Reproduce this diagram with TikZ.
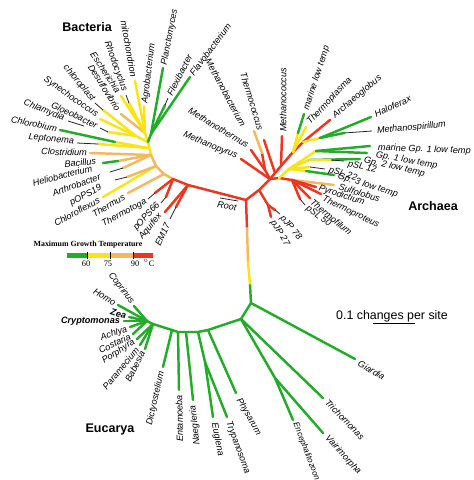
\documentclass[tikz,border=0pt]{standalone}
\usepackage{fontspec}
\setmainfont{Liberation Sans}
\newfontfamily\serifx{Liberation Serif}
\definecolor{tgreen}{RGB}{34,172,40}
\definecolor{tyellow}{RGB}{250,228,20}
\definecolor{torange}{RGB}{244,184,96}
\definecolor{tred}{RGB}{240,52,30}
\begin{document}
\begin{tikzpicture}[x=0.75pt,y=-0.75pt,
  br/.style={line width=1.85pt, line cap=round, line join=round},
  grn/.style={br, draw=tgreen},
  ylw/.style={br, draw=tyellow},
  org/.style={br, draw=torange},
  rd/.style={br, draw=tred},
  blk/.style={draw=black!85, line width=0.6pt},
  lab/.style={font=\fontsize{6.85}{7}\selectfont\itshape, inner sep=0.6pt},
  labs/.style={lab, font=\fontsize{6.2}{7}\selectfont\itshape},
  labb/.style={lab, font=\fontsize{6.85}{7}\selectfont\bfseries\itshape},
  ttl/.style={font=\fontsize{9.4}{10}\selectfont\bfseries, inner sep=0pt},
  lgd/.style={font=\serifx\fontsize{6.3}{7}\selectfont, inner sep=0pt}]
\path[use as bounding box] (0,0) rectangle (474,480);

% ---------- main skeleton ----------
\coordinate (R) at (246,200);
\coordinate (V1) at (247,228);
\coordinate (V2) at (248,262);
\coordinate (V3) at (250,285);
\coordinate (E0) at (251,303);
\draw[rd] (R) -- (V1);
\draw[org] (V1) -- (V2);
\draw[ylw] (V2) -- (V3);
\draw[grn] (V3) -- (E0);

% ---------- Bacteria ----------
\coordinate (B1) at (188,185);
\coordinate (B2) at (173,179);
\coordinate (B3) at (164,174);
\coordinate (B4) at (156,166);
\coordinate (B5) at (151,155);
\coordinate (BC) at (148,142);
\coordinate (BP) at (145,133);
\coordinate (BY) at (136,136);
\coordinate (BG) at (151,134);
\draw[rd] (R) -- (B1) -- (B2);
\draw[org] (B2) -- (B3) -- (B4) -- (B5);
\draw[ylw] (B5) -- (BC);

\coordinate (tAq) at (165,212);
\coordinate (jEM) at (176,207);
\coordinate (tEM) at (170,219);
\coordinate (tTt) at (155,193);
\coordinate (uTt) at (148,199);
\coordinate (jP66) at (166,197);
\coordinate (tP66) at (161,203);
\coordinate (tTh) at (128,193);
\coordinate (tCf) at (103,197);
\coordinate (jAr) at (127,177);
\coordinate (tAr) at (115,180);
\coordinate (jHe) at (123,168);
\coordinate (tHe) at (110,172);
\coordinate (jBa) at (118,161);
\coordinate (tBa) at (103,163);
\coordinate (tCl) at (90,153);
\coordinate (hL) at (148,148);
\coordinate (jLe) at (98,144);
\coordinate (tLe) at (77,143);
\coordinate (jCb) at (115,142);
\coordinate (tCb) at (60,130);
\coordinate (jCh) at (84,126);
\coordinate (tCh) at (68,121);
\coordinate (jGl) at (108,132);
\coordinate (tGl) at (100,128);
\coordinate (tSy) at (100,119);
\coordinate (jCp) at (103,110);
\coordinate (tCp) at (95,103);
\coordinate (tDe) at (121,114);
\coordinate (tEs) at (121,96);
\coordinate (jRh) at (129,103);
\coordinate (tRh) at (126,95);
\coordinate (tMi) at (135,81);
\coordinate (tAg) at (144,106);
\coordinate (tPl) at (163,68);
\coordinate (jFx) at (165,105);
\coordinate (tFx) at (168,98);
\coordinate (tFv) at (190,77);

\draw[rd] (B1) -- (tAq);
\draw[rd] (B1) -- (jEM); \draw[blk] (jEM) -- (tEM);
\draw[rd] (B2) -- (tTt); \draw[blk] (tTt) -- (uTt);
\draw[rd] (B2) -- (jP66); \draw[blk] (jP66) -- (tP66);
\draw[org] (B3) -- (tTh);
\draw[ylw] (B4) -- (tCf);
\draw[org] (B4) -- (jAr); \draw[blk] (jAr) -- (tAr);
\draw[org] (B5) -- (jHe); \draw[blk] (jHe) -- (tHe);
\draw[org] (B5) -- (jBa); \draw[grn] (jBa) -- (tBa);
\draw[org] (B5) -- (tCl);
\draw[ylw] (hL) -- (jLe); \draw[blk] (jLe) -- (tLe);
\draw[ylw] (hL) -- (jCb); \draw[grn] (jCb) -- (tCb);
\draw[blk] (jCh) -- (tCh);
\draw[ylw] (BC) -- (BY);
\draw[ylw] (BY) -- (jGl); \draw[blk] (jGl) -- (tGl);
\draw[ylw] (BY) -- (tSy);
\draw[ylw] (BY) -- (jCp); \draw[blk] (jCp) -- (tCp);
\draw[ylw] (BC) -- (BP);
\draw[org] (BP) -- (tDe);
\draw[ylw] (BP) -- (tEs);
\draw[ylw] (BP) -- (jRh); \draw[blk] (jRh) -- (tRh);
\draw[ylw] (BP) -- (tMi);
\draw[ylw] (BP) -- (tAg);
\draw[grn] (BC) -- (BG);
\draw[grn] (BG) -- (tPl);
\draw[grn] (BG) -- (jFx); \draw[blk] (jFx) -- (tFx);
\draw[grn] (BG) -- (tFv);

\node[lab, anchor=east, rotate=50] (lAq) at (161,214) {Aquifex};
\node[lab, anchor=east, rotate=65] (lEM) at (168,223) {EM17};
\node[lab, anchor=east, rotate=48] (lP66) at (159,203) {pOPS66};
\node[lab, anchor=east, rotate=28] (lTt) at (147,201) {Thermotoga};
\node[lab, anchor=east, rotate=30] (lTh) at (125,196) {Thermus};
\node[lab, anchor=east, rotate=29] (lCf) at (100,199) {Chloroflexus};
\node[lab, anchor=east, rotate=28] (lP19) at (102,187) {pOPS19};
\node[lab, anchor=east, rotate=20] (lAr) at (101,176) {Arthrobacter};
\node[lab, anchor=east, rotate=14] (lHe) at (93,168) {Heliobacterium};
\node[lab, anchor=east, rotate=5] (lBa) at (97,161) {Bacillus};
\node[lab, anchor=east, rotate=-2] (lCl) at (88,153) {Clostridium};
\node[lab, anchor=east, rotate=-6] (lLe) at (75,142) {Leptonema};
\node[lab, anchor=east, rotate=-12] (lCb) at (58,129) {Chlorobium};
\node[lab, anchor=east, rotate=-22] (lCh) at (65,119) {Chlamydia};
\node[lab, anchor=east, rotate=-25] (lGl) at (98,126) {Gloeobacter};
\node[lab, anchor=east, rotate=-35] (lSy) at (98,116) {Synechococcus};
\node[lab, anchor=east, rotate=-50] (lCp) at (94,101) {chloroplast};
\node[lab, anchor=east, rotate=-58] (lDe) at (119,111) {Desulfovibrio};
\node[lab, anchor=east, rotate=-57] (lEs) at (119,93) {Escherichia};
\node[lab, anchor=east, rotate=-70] (lRh) at (125,92) {Rhodocyclus};
\node[lab, anchor=east, rotate=-80] (lMi) at (134,78) {mitochondrion};
\node[lab, anchor=west, rotate=83] (lAg) at (145,104) {Agrobacterium};
\node[lab, anchor=west, rotate=79] (lPl) at (164,66) {Planctomyces};
\node[lab, anchor=west, rotate=63] (lFx) at (169,96) {Flexibacter};
\node[lab, anchor=west, rotate=53] (lFv) at (191,75) {Flavobacterium};

% Root marker
\coordinate (rl1) at (220,198);
\coordinate (rl2) at (238,201);
\draw[blk] (rl1) -- (rl2);
\node[lab, rotate=-10] (lRoot) at (227,206) {Root};

% ---------- Archaea ----------
\coordinate (A1) at (259,190);
\coordinate (A2) at (270,179);
\coordinate (AQ) at (275,173);
\coordinate (A3) at (281,166);
\coordinate (A4) at (293,152);
\coordinate (A5) at (303,142);
\coordinate (tArc) at (330,120);
\coordinate (AM) at (265,170);
\draw[rd] (R) -- (A1) -- (A2) -- (AQ) -- (A3) -- (A4) -- (A5) -- (tArc);

\coordinate (AP) at (268,205);
\coordinate (jP78) at (275,210);
\coordinate (tP78) at (280,214);
\coordinate (tP27) at (271,217);
\draw[rd] (A1) -- (AP) -- (jP78); \draw[blk] (jP78) -- (tP78);
\draw[rd] (AP) -- (tP27);

\coordinate (tMp) at (241,159);
\coordinate (tMt) at (251,150);
\coordinate (jMb) at (262,153);
\coordinate (tMb) at (254,131);
\coordinate (tTc) at (264,140);
\coordinate (tMc) at (282,136);
\coordinate (jMl) at (298,133);
\coordinate (tMl) at (304,114);
\coordinate (tTp) at (306,127);
\coordinate (AH) at (320,138);
\coordinate (tHf) at (371,117);
\coordinate (jMs) at (344,133);
\coordinate (tMs) at (372,131);
\draw[rd] (A2) -- (tMp);
\draw[rd] (A2) -- (AM) -- (tMt);
\draw[rd] (AM) -- (jMb); \draw[org] (jMb) -- (tMb);
\draw[rd] (AQ) -- (tTc);
\draw[rd] (A3) -- (tMc);
\draw[ylw] (A4) -- (jMl); \draw[grn] (jMl) -- (tMl);
\draw[ylw] (A4) -- (tTp);
\draw[ylw] (A5) -- (AH);
\draw[grn] (AH) -- (tHf);
\draw[grn] (AH) -- (jMs); \draw[blk] (jMs) -- (tMs);

\coordinate (CJ) at (279,178);
\coordinate (C) at (292,180);
\coordinate (GY) at (289,169);
\coordinate (G1) at (316,151);
\coordinate (G2) at (309,160);
\coordinate (tG1m) at (370,146);
\coordinate (tG1) at (367,153);
\coordinate (tG2) at (360,159);
\coordinate (jS12) at (331,160);
\coordinate (tS12) at (344,161);
\coordinate (jS22) at (310,167);
\coordinate (tS22) at (325,169);
\coordinate (jG3) at (306,171);
\coordinate (tG3) at (334,175);
\coordinate (tSu) at (334,185);
\coordinate (tPy) at (316,187);
\coordinate (tTpr) at (321,194);
\coordinate (tTf) at (310,198);
\coordinate (jS50) at (300,199);
\coordinate (tS50) at (305,205);
\draw[rd] (A2) -- (CJ) -- (C);
\draw[ylw] (CJ) -- (GY);
\draw[ylw] (GY) -- (G1);
\draw[grn] (G1) -- (tG1m);
\draw[grn] (G1) -- (tG1);
\draw[ylw] (GY) -- (G2);
\draw[grn] (G2) -- (tG2);
\draw[ylw] (G2) -- (jS12); \draw[blk] (jS12) -- (tS12);
\draw[ylw] (GY) -- (jS22); \draw[blk] (jS22) -- (tS22);
\draw[ylw] (GY) -- (jG3); \draw[grn] (jG3) -- (tG3);
\draw[org] (C) -- (tSu);
\draw[rd] (C) -- (tPy);
\draw[rd] (C) -- (tTpr);
\draw[rd] (C) -- (tTf);
\draw[rd] (C) -- (jS50); \draw[blk] (jS50) -- (tS50);

\node[lab, anchor=west, rotate=-50] (lP78) at (281,216) {pJP 78};
\node[lab, anchor=west, rotate=-59] (lP27) at (272,220) {pJP 27};
\node[lab, anchor=east, rotate=-23] (lMp) at (238,157) {Methanopyrus};
\node[lab, anchor=east, rotate=-31] (lMt) at (249,146) {Methanothermus};
\node[lab, anchor=east, rotate=-62] (lMb) at (244,127) {Methanobacterium};
\node[lab, anchor=east, rotate=-73] (lTc) at (261,131) {Thermococcus};
\node[lab, anchor=west, rotate=90] (lMc) at (283,133) {Methanococcus};
\node[lab, anchor=west, rotate=72] (lMl) at (306,111) {marine low temp};
\node[lab, anchor=west, rotate=47] (lTp) at (308,124) {Thermoplasma};
\node[lab, anchor=west, rotate=40] (lArc) at (333,117) {Archaeoglobus};
\node[lab, anchor=west, rotate=25] (lHf) at (374,115) {Haloferax};
\node[lab, anchor=west, rotate=5] (lMs) at (376,131) {Methanospirillum};
\node[lab, anchor=west, rotate=-2] (lG1m) at (377,148) {marine Gp. 1 low temp};
\node[lab, anchor=west, rotate=-10] (lG1) at (375,155) {Gp. 1 low temp};
\node[lab, anchor=west, rotate=-13] (lG2) at (363,160) {Gp. 2 low temp};
\node[lab, anchor=west, rotate=-12] (lS12) at (347,164) {pSL 12};
\node[lab, anchor=west, rotate=-16] (lS22) at (328,170) {pSL 22};
\node[lab, anchor=west, rotate=-17] (lG3) at (337,176) {Gp. 3 low temp};
\node[lab, anchor=west, rotate=-17] (lSu) at (338,186) {Sulfolobus};
\node[lab, anchor=west, rotate=-18] (lPy) at (318,188) {Pyrodictium};
\node[lab, anchor=west, rotate=-26] (lTpr) at (322,198) {Thermoproteus};
\node[lab, anchor=west, rotate=-40] (lTf) at (311,200) {Thermofilum};
\node[lab, anchor=west, rotate=-37] (lS50) at (306,207) {pSL 50};

% ---------- Eucarya ----------
\coordinate (tGi) at (355,359);
\coordinate (E1) at (241,319);
\coordinate (E2) at (208,330);
\coordinate (E2b) at (198,332);
\coordinate (E2c) at (186,332);
\coordinate (E3) at (178,332);
\coordinate (E3b) at (172,330);
\coordinate (E4) at (153,324);
\coordinate (EH) at (147,321);
\coordinate (EV) at (275,378);
\coordinate (tTr) at (323,398);
\coordinate (tVa) at (323,433);
\coordinate (tEn) at (293,420);
\coordinate (tPh) at (236,393);
\coordinate (EE) at (205,362);
\coordinate (tEu) at (213,417);
\coordinate (tTy) at (227,417);
\coordinate (tNa) at (193,400);
\coordinate (tEm) at (179,390);
\coordinate (tDi) at (163,367);
\draw[grn] (E0) -- (tGi);
\draw[grn] (E0) -- (E1) -- (E2) -- (E2b) -- (E2c) -- (E3) -- (E3b) -- (E4) -- (EH);
\draw[grn] (E1) -- (tTr);
\draw[grn] (E1) -- (EV) -- (tVa);
\draw[grn] (EV) -- (tEn);
\draw[grn] (E2) -- (tPh);
\draw[grn] (E2b) -- (EE) -- (tEu);
\draw[grn] (EE) -- (tTy);
\draw[grn] (E2c) -- (tNa);
\draw[grn] (E3) -- (tEm);
\draw[grn] (E3b) -- (tDi);

\coordinate (tCo) at (134,306);
\coordinate (tHo) at (118,305);
\coordinate (tZe) at (129,317);
\coordinate (tCr) at (124,321);
\coordinate (tAc) at (130,327);
\coordinate (tCs) at (133,334);
\coordinate (tPo) at (137,339);
\coordinate (tPa) at (140,345);
\coordinate (tBb) at (145,349);
\draw[grn] (EH) -- (tCo);
\draw[grn] (EH) -- (tHo);
\draw[grn] (EH) -- (tZe);
\draw[grn] (EH) -- (tCr);
\draw[grn] (EH) -- (tAc);
\draw[grn] (EH) -- (tCs);
\draw[grn] (E4) -- (tPo);
\draw[grn] (E4) -- (tPa);
\draw[grn] (E4) -- (tBb);

\node[lab, anchor=west, rotate=-31] (lGi) at (358,362) {Giardia};
\node[lab, anchor=west, rotate=-46] (lTr) at (326,400) {Trichomonas};
\node[lab, anchor=west, rotate=-48] (lVa) at (326,436) {Vairimorpha};
\node[labs, anchor=west, rotate=-69] (lEn) at (295,422) {Encephalitozoon};
\node[lab, anchor=west, rotate=-60] (lPh) at (238,398) {Physarum};
\node[lab, anchor=west, rotate=-70] (lTy) at (228,421) {Trypanosoma};
\node[lab, anchor=west, rotate=-79] (lEu) at (214,422) {Euglena};
\node[lab, anchor=east, rotate=96] (lNa) at (193,405) {Naegleria};
\node[lab, anchor=east, rotate=91] (lEm) at (179,394) {Entamoeba};
\node[lab, anchor=east, rotate=77] (lDi) at (162,371) {Dictyostelium};
\node[lab, anchor=east, rotate=-53] (lCo) at (133,304) {Coprinus};
\node[lab, anchor=east, rotate=-31] (lHo) at (116,304) {Homo};
\node[labb, anchor=east, rotate=-15] (lZe) at (127,316) {Zea};
\node[labb, anchor=east] (lCr) at (121,321) {Cryptomonas};
\node[lab, anchor=east, rotate=18] (lAc) at (128,329) {Achlya};
\node[lab, anchor=east, rotate=25] (lCs) at (131,336) {Costaria};
\node[lab, anchor=east, rotate=33] (lPo) at (135,341) {Porphyra};
\node[lab, anchor=east, rotate=50] (lPa) at (138,348) {Paramecium};
\node[lab, anchor=east, rotate=63] (lBb) at (143,351) {Babesia};

% ---------- titles ----------
\node[ttl] (tBac) at (87,27) {Bacteria};
\node[ttl] (tArch) at (433,206) {Archaea};
\node[ttl] (tEuc) at (110,429) {Eucarya};

% scale
\node[font=\fontsize{9.3}{10}\selectfont, inner sep=0pt] (scl) at (392,316) {0.1 changes per site};
\coordinate (s1) at (373,323);
\coordinate (s2) at (415,323);
\draw[black, line width=0.7pt] (s1) -- (s2);

% ---------- legend ----------
\node[lgd, font=\serifx\bfseries\fontsize{5.9}{7}\selectfont] (lgT) at (88,245) {Maximum Growth Temperature};
\coordinate (c0) at (67,253);
\coordinate (c1) at (87,258);
\fill[tgreen] (c0) rectangle (c1);
\fill[tyellow] (87,253) rectangle (110,258);
\fill[torange] (110,253) rectangle (133,258);
\fill[tred] (133,253) rectangle (153,258);
\draw[black, line width=0.6pt] (87,252) -- (87,259) (110,252) -- (110,259) (133,252) -- (133,259);
\node[lgd] (n60) at (86,264) {60};
\node[lgd] (n75) at (108,264) {75};
\node[lgd] (n90) at (135,264) {90};
\node[lgd] (ndeg) at (149,263) {$^\circ$C};
\end{tikzpicture}
\end{document}
